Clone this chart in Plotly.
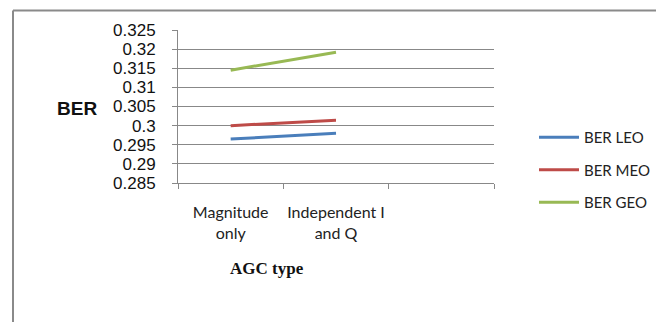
import plotly.graph_objects as go

categories = ["Magnitude<br>only", "Independent I<br>and Q", " "]
ber_leo = [0.2965, 0.2980, None]
ber_meo = [0.3000, 0.3014, None]
ber_geo = [0.3145, 0.3192, None]
series_names = ["BER LEO", "BER MEO", "BER GEO"]
series_colors = ["#4A7EBB", "#BE4B48", "#98B954"]
y_tick_vals = [0.285, 0.29, 0.295, 0.3, 0.305, 0.31, 0.315, 0.32, 0.325]
y_tick_text = ["0.285", "0.29", "0.295", "0.3", "0.305", "0.31", "0.315", "0.32", "0.325"]

W, H = 656, 322
L, T, B = 178, 30, 139          # plot area left/top, bottom margin (pixels)
PLOT_RIGHT = 494                # right edge of plot area (pixels)
PW = W - L                      # paper width (right margin 0)
PH = H - T - B


def px(x):
    return (x - L) / PW


def py(y):
    return 1 - (y - T) / PH


fig = go.Figure()
for i, (name, vals, col) in enumerate(zip(series_names, [ber_leo, ber_meo, ber_geo], series_colors)):
    fig.add_trace(go.Scatter(x=categories, y=vals, mode="lines", name=name,
                             legendgroup=f"g{i}",
                             line=dict(color=col, width=3)))

fig.update_layout(
    width=W, height=H,
    margin=dict(l=L, r=0, t=T, b=B, pad=0),
    paper_bgcolor="white", plot_bgcolor="white",
    showlegend=True,
    legend=dict(x=px(534), y=py(121), xanchor="left", yanchor="top",
                font=dict(family="Lato, Open Sans, sans-serif", size=15, color="#222"),
                tracegroupgap=10, itemwidth=40, bgcolor="rgba(0,0,0,0)", borderwidth=0),
    xaxis=dict(type="category", range=[-0.5, 2.5], domain=[0, px(PLOT_RIGHT)],
               tickson="boundaries", tickangle=0, automargin=False,
               ticks="outside", ticklen=5, tickcolor="#888", showgrid=False,
               showline=True, linecolor="#888", linewidth=1,
               tickfont=dict(family="Lato, Open Sans, sans-serif", size=16, color="#222"),
               ticklabelstandoff=15, fixedrange=True),
    yaxis=dict(range=[0.285, 0.325], tickvals=y_tick_vals, ticktext=y_tick_text,
               automargin=False,
               ticks="outside", ticklen=5, tickcolor="#888",
               showgrid=True, gridcolor="#888", gridwidth=1,
               showline=True, linecolor="#888", linewidth=1, zeroline=False,
               tickfont=dict(family="Liberation Sans, Arial, sans-serif", size=17, color="#111"),
               ticklabelstandoff=13),
)

fig.add_annotation(text="<b>BER</b>", xref="paper", yref="paper",
                   x=px(55), y=py(108), xanchor="left", yanchor="middle",
                   showarrow=False, font=dict(family="Liberation Sans, Arial, sans-serif", size=19, color="#111"))
fig.add_annotation(text="<b>AGC type</b>", xref="paper", yref="paper",
                   x=px(267), y=py(268), xanchor="center", yanchor="middle",
                   showarrow=False, font=dict(family="Liberation Serif, Times New Roman, serif", size=17, color="#111"))

# outer chart border (top and left visible)
fig.add_shape(type="line", xref="paper", yref="paper",
              x0=px(13), x1=px(W + 5), y0=py(10.5), y1=py(10.5),
              line=dict(color="#8a8a8a", width=2))
fig.add_shape(type="line", xref="paper", yref="paper",
              x0=px(13), x1=px(13), y0=py(10.5), y1=py(H + 5),
              line=dict(color="#8a8a8a", width=2))

fig.write_html("out.html", config={"displayModeBar": False},
               post_script="document.body.style.margin='0';document.body.style.overflow='hidden';")
